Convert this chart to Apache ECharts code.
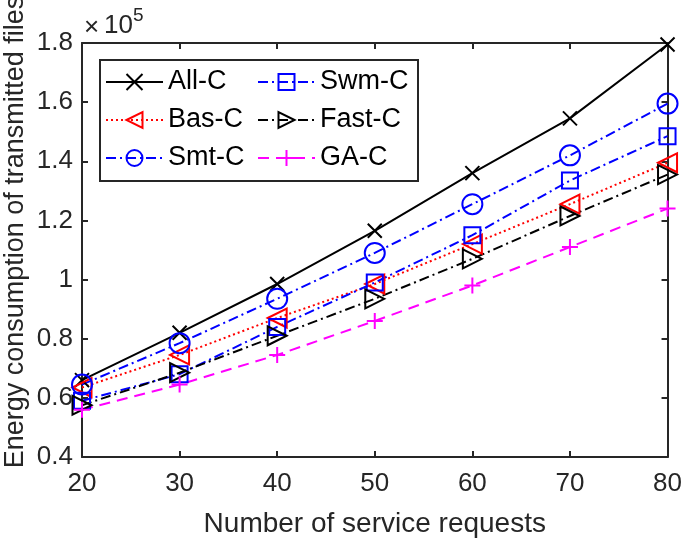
<!DOCTYPE html>
<html><head><meta charset="utf-8">
<script src="https://cdn.jsdelivr.net/npm/echarts@6/dist/echarts.min.js"></script>
<style>html,body{margin:0;padding:0;background:#fff}#c{width:685px;height:543px}</style>
</head><body><div id="c"></div>
<script>
// Data (values in units of 1e5)
const requests = [20, 30, 40, 50, 60, 70, 80];
const allC  = [0.66, 0.82, 0.985, 1.165, 1.36, 1.545, 1.795];
const basC  = [0.635, 0.745, 0.87, 0.985, 1.12, 1.255, 1.395];
const smtC  = [0.645, 0.785, 0.935, 1.09, 1.255, 1.42, 1.595];
const swmC  = [0.59, 0.68, 0.84, 0.99, 1.15, 1.335, 1.485];
const fastC = [0.575, 0.685, 0.81, 0.935, 1.07, 1.215, 1.355];
const gaC   = [0.56, 0.645, 0.745, 0.86, 0.98, 1.11, 1.24];
const seriesNames = ['All-C', 'Bas-C', 'Smt-C', 'Swm-C', 'Fast-C', 'GA-C'];
const xLabel = 'Number of service requests';
const yLabel = 'Energy consumption of transmitted files';

const FONT = "'Liberation Sans', Arial, sans-serif";
const AX = '#262626';
const SYM = {
  cross: 'path://M0,0 L10,10 M10,0 L0,10',
  plus: 'path://M5,0 L5,10 M0,5 L10,5',
  left: 'path://M0,5 L10,0 L10,10 Z',
  right: 'path://M10,5 L0,0 L0,10 Z'
};
function mk(name, vals, color, dash, symbol, size) {
  return {
    name: name, type: 'line', clip: false, animation: false,
    data: requests.map((x, i) => [x, vals[i]]),
    symbol: symbol, symbolSize: size, showAllSymbol: true,
    lineStyle: { color: color, width: 2, type: dash },
    itemStyle: { color: 'rgba(0,0,0,0)', borderColor: color, borderWidth: 2 },
    emphasis: { disabled: true }
  };
}
const series = [
  mk('All-C', allC, '#000000', 'solid', SYM.cross, 14),
  mk('Bas-C', basC, '#ff0000', [2, 3], SYM.left, 19),
  mk('Smt-C', smtC, '#0000ff', [10, 4, 2, 4], 'circle', 20),
  mk('Swm-C', swmC, '#0000ff', [10, 4, 2, 4], 'rect', 16),
  mk('Fast-C', fastC, '#000000', [10, 4, 2, 4], SYM.right, 19),
  mk('GA-C', gaC, '#ff00ff', [11, 7], SYM.plus, 16)
];

const chart = echarts.init(document.getElementById('c'), null, { renderer: 'canvas' });
const legendCommon = {
  orient: 'vertical', itemWidth: 57, itemHeight: 20, itemGap: 8, padding: 0,
  textStyle: { fontFamily: FONT, fontSize: 27, color: '#000', lineHeight: 30 },
  selectedMode: false
};
chart.setOption({
  backgroundColor: '#fff',
  animation: false,
  grid: { left: 82, right: 16, top: 43, bottom: 84, containLabel: false },
  legend: [
    Object.assign({ data: seriesNames.slice(0, 3), left: 105, top: 67 }, legendCommon),
    Object.assign({ data: seriesNames.slice(3, 6), left: 257, top: 67 }, legendCommon)
  ],
  graphic: [
    { type: 'rect', left: 99, top: 59, shape: { width: 318, height: 121 },
      style: { fill: 'rgba(0,0,0,0)', stroke: AX, lineWidth: 2 }, z: 100 },
    { type: 'text', x: 84, y: 28,
      style: { text: '×', fontFamily: FONT, fontSize: 26, fill: AX, align: 'left', verticalAlign: 'middle' } },
    { type: 'text', x: 104, y: 26,
      style: { text: '10', fontFamily: FONT, fontSize: 26, fill: AX, align: 'left', verticalAlign: 'middle' } },
    { type: 'text', x: 133, y: 16,
      style: { text: '5', fontFamily: FONT, fontSize: 19, fill: AX, align: 'left', verticalAlign: 'middle' } },
    { type: 'text', x: 16, y: 232, rotation: Math.PI / 2,
      style: { text: yLabel, fontFamily: FONT, fontSize: 27, fill: AX, align: 'center', verticalAlign: 'middle' } }
  ],
  xAxis: [
    { type: 'value', min: 20, max: 80, interval: 10, position: 'bottom',
      name: xLabel, nameLocation: 'middle', nameGap: 53,
      nameTextStyle: { fontFamily: FONT, fontSize: 28, color: AX },
      axisLine: { show: true, lineStyle: { color: AX, width: 2 } },
      axisTick: { inside: true, length: 6, lineStyle: { color: AX, width: 2 } },
      axisLabel: { fontFamily: FONT, fontSize: 26, color: AX, margin: 14 },
      splitLine: { show: false } },
    { type: 'value', min: 20, max: 80, interval: 10, position: 'top',
      axisLine: { show: true, lineStyle: { color: AX, width: 2 } },
      axisTick: { inside: true, length: 6, lineStyle: { color: AX, width: 2 } },
      axisLabel: { show: false }, splitLine: { show: false } }
  ],
  yAxis: [
    { type: 'value', min: 0.4, max: 1.8, interval: 0.2, position: 'left',
      axisLine: { show: true, lineStyle: { color: AX, width: 2 } },
      axisTick: { inside: true, length: 6, lineStyle: { color: AX, width: 2 } },
      axisLabel: { fontFamily: FONT, fontSize: 26, color: AX, margin: 9,
        formatter: v => String(Math.round(v * 10) / 10) },
      splitLine: { show: false } },
    { type: 'value', min: 0.4, max: 1.8, interval: 0.2, position: 'right',
      axisLine: { show: true, lineStyle: { color: AX, width: 2 } },
      axisTick: { inside: true, length: 6, lineStyle: { color: AX, width: 2 } },
      axisLabel: { show: false }, splitLine: { show: false } }
  ],
  series: series
});
</script></body></html>
